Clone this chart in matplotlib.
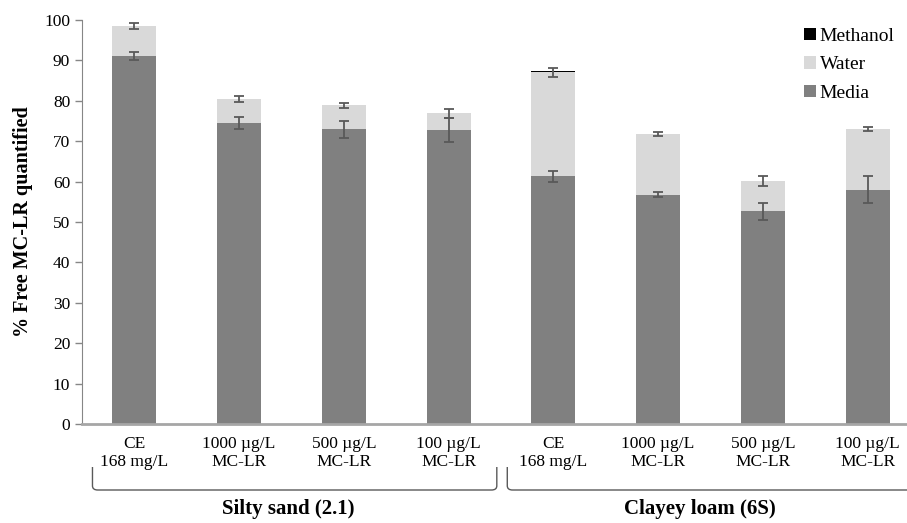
import numpy as np
import matplotlib
matplotlib.use('Agg')
import matplotlib.pyplot as plt
from matplotlib.path import Path
from matplotlib.patches import PathPatch
import matplotlib.transforms as mtransforms

# dados
categorias = ['CE\n168 mg/L', '1000 µg/L\nMC-LR', '500 µg/L\nMC-LR', '100 µg/L\nMC-LR',
              'CE\n168 mg/L', '1000 µg/L\nMC-LR', '500 µg/L\nMC-LR', '100 µg/L\nMC-LR']
grupos = ['Silty sand (2.1)', 'Clayey loam (6S)']
media = [91.0, 74.5, 72.9, 72.7, 61.3, 56.8, 52.6, 58.0]
media_err = [1.0, 1.4, 2.0, 3.0, 1.3, 0.6, 2.0, 3.3]
water = [7.5, 6.0, 6.0, 4.2, 25.8, 15.0, 7.5, 15.0]
water_err = [0.7, 0.7, 0.65, 1.1, 1.1, 0.4, 1.2, 0.4]
methanol = [0, 0, 0, 0, 0.4, 0, 0, 0]

plt.rcParams['font.family'] = ['Liberation Serif', 'DejaVu Serif']

fig = plt.figure(figsize=(9.07, 5.23), dpi=100)
ax = fig.add_axes([82/907, 1-424/523, 838/907, 404/523])

x = np.arange(len(categorias))
larg = 0.42
total = np.array(media) + np.array(water)

ax.bar(x, media, larg, color='#808080', label='Media', zorder=2)
ax.bar(x, water, larg, bottom=media, color='#d9d9d9', label='Water', zorder=2)
ax.bar(x, methanol, larg, bottom=total, color='#000000', label='Methanol', zorder=2)

ax.errorbar(x, media, yerr=media_err, fmt='none', ecolor='#595959', elinewidth=1.3,
            capsize=3.5, capthick=1.3, zorder=3)
ax.errorbar(x, total, yerr=water_err, fmt='none', ecolor='#595959', elinewidth=1.3,
            capsize=3.5, capthick=1.3, zorder=3)

ax.set_xlim(-0.5, 7.5)
ax.set_ylim(0, 100)
ax.set_yticks(np.arange(0, 101, 10))
ax.set_xticks(x)
ax.set_xticklabels(categorias, fontsize=12.5, linespacing=1.1)
ax.tick_params(axis='x', length=0, pad=9)
ax.tick_params(axis='y', labelsize=12.5, length=5, color='#868686', width=1, direction='out')
for s in ['top', 'right']:
    ax.spines[s].set_visible(False)
ax.spines['left'].set_color('#868686')
ax.spines['bottom'].set_color('#a6a6a6')
ax.spines['bottom'].set_linewidth(2)

ax.set_ylabel('% Free MC-LR quantified', fontsize=14.5, fontweight='bold', labelpad=8)

# chaves dos grupos
trans = mtransforms.blended_transform_factory(ax.transData, fig.transFigure)
y_top = 1 - 467/523
y_bot = 1 - 490/523
r = 0.008
for (x0, x1) in [(-0.40, 3.46), (3.56, 8.3)]:
    verts = [(x0, y_top), (x0, y_bot + r), (x0, y_bot), (x0 + 0.05, y_bot),
             (x1 - 0.05, y_bot), (x1, y_bot), (x1, y_bot + r), (x1, y_top)]
    codes = [Path.MOVETO, Path.LINETO, Path.CURVE3, Path.CURVE3,
             Path.LINETO, Path.CURVE3, Path.CURVE3, Path.LINETO]
    p = PathPatch(Path(verts, codes), transform=trans, fill=False, edgecolor='#595959',
                  linewidth=1, clip_on=False)
    ax.add_patch(p)

fig.text(288/907, 1 - 509/523, grupos[0], ha='center', va='center', fontsize=15, fontweight='bold')
fig.text(700/907, 1 - 509/523, grupos[1], ha='center', va='center', fontsize=15, fontweight='bold')

h, l = ax.get_legend_handles_labels()
leg = ax.legend(h[::-1], l[::-1], loc='upper right', bbox_to_anchor=(912/907, 1 - 10/523),
                bbox_transform=fig.transFigure, frameon=False, fontsize=14,
                handlelength=0.6, handleheight=0.6, handletextpad=0.2, labelspacing=0.6)

fig.savefig('out.png', dpi=100)
